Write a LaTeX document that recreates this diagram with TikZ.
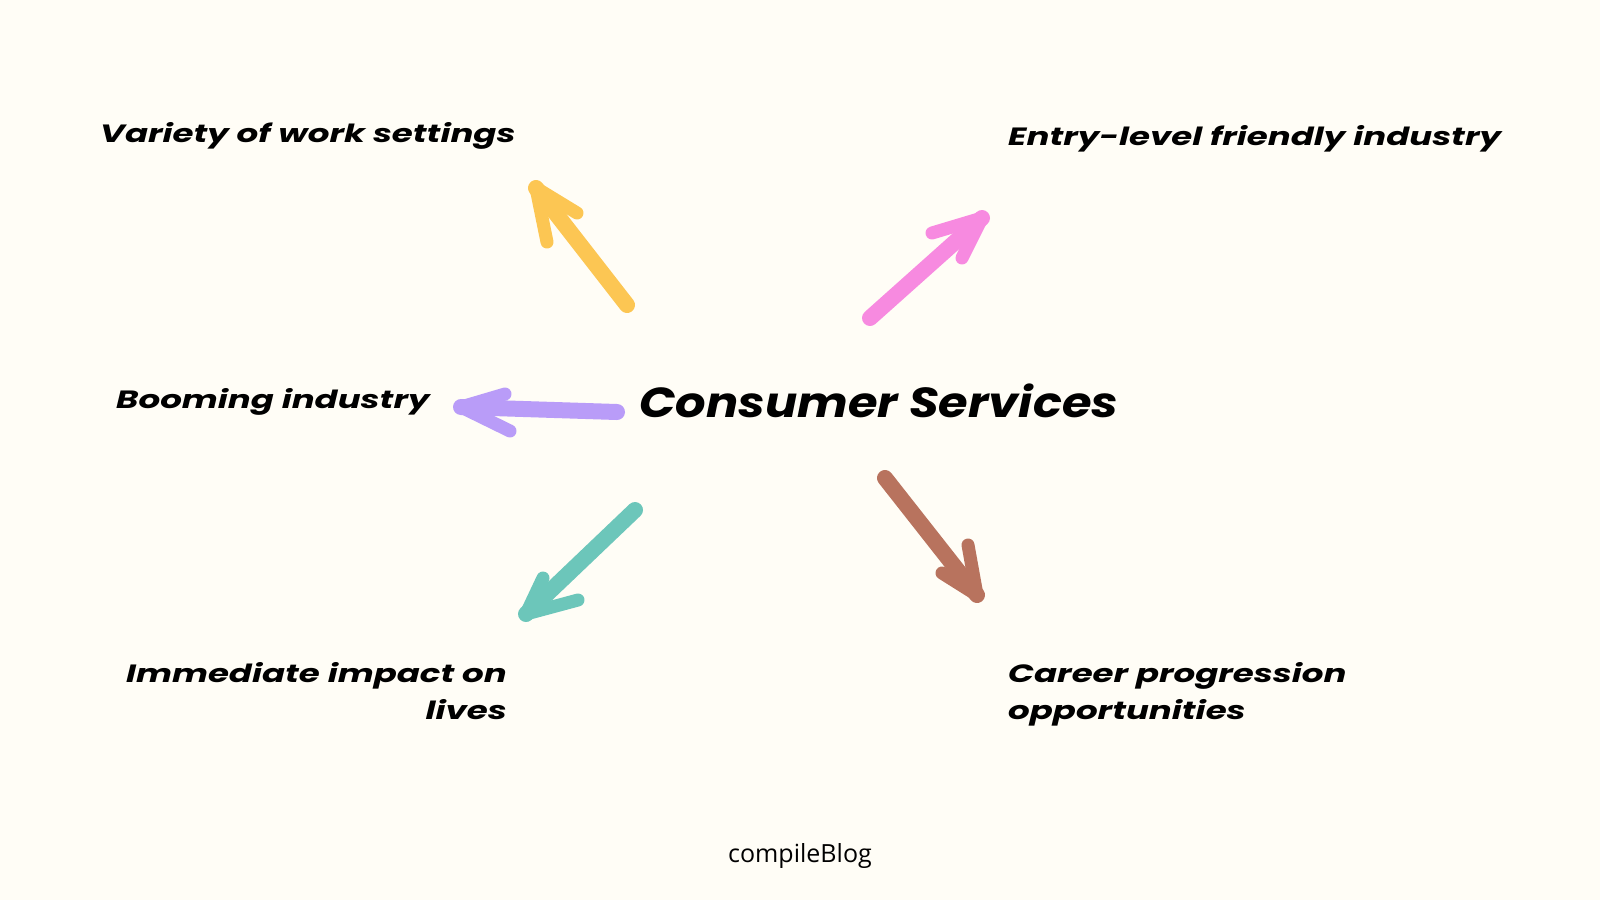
\documentclass[tikz,border=0pt]{standalone}
\usepackage{fontspec}
\usetikzlibrary{calc}
\setmainfont{Poppins}
\newfontfamily\lblfont[FakeStretch=1.36]{Poppins}
\newfontfamily\titlefont[FakeStretch=1.14]{Poppins}
\newfontfamily\blogfont{Open Sans}
\definecolor{bgc}{HTML}{FFFDF6}
\definecolor{ayel}{HTML}{FCC653}
\definecolor{apink}{HTML}{F78AE0}
\definecolor{apur}{HTML}{B99CF8}
\definecolor{ateal}{HTML}{6CC6BA}
\definecolor{abrown}{HTML}{B8735E}
\begin{document}
\begin{tikzpicture}[x=1pt,y=-1pt,
  lbl/.style={font=\lblfont\fontsize{25}{37}\selectfont\bfseries\itshape, inner sep=0pt},
  shaft/.style={line width=16pt, line cap=round},
  barb/.style={line width=13pt, line cap=round, line join=round}]
\fill[bgc] (0,0) rectangle (1600,900);
\useasboundingbox (0,0) rectangle (1600,900);
% labels
\node[lbl, anchor=west] (var) at (100,136) {Variety of work settings};
\node[lbl, anchor=west] (ent) at (1008,139) {Entry-level friendly industry};
\node[lbl, anchor=west] (boom) at (116,402) {Booming industry};
\node[font=\titlefont\fontsize{42}{50}\selectfont\bfseries\itshape, inner sep=0pt, anchor=west] (cs) at (639,401) {Consumer Services};
\node[lbl, anchor=north east, align=right] (imm) at (507,662) {Immediate impact on\\lives};
\node[lbl, anchor=north west, align=left] (car) at (1008,662) {Career progression\\opportunities};
\node[font=\blogfont\fontsize{25}{30}\selectfont, inner sep=0pt] (blog) at (800,856) {compileBlog};
% arrow coordinates
\coordinate (y0) at (627,305); \coordinate (y1) at (536,188);
\coordinate (ya) at (547,242); \coordinate (yb) at (577,213);
\coordinate (p0) at (870,318); \coordinate (p1) at (982,218);
\coordinate (pa) at (932,233); \coordinate (pb) at (962,258);
\coordinate (u0) at (617,412); \coordinate (u1) at (461,407);
\coordinate (ua) at (505,394); \coordinate (ub) at (510,431);
\coordinate (t0) at (635,510); \coordinate (t1) at (526,614);
\coordinate (ta) at (543,578); \coordinate (tb) at (578,600);
\coordinate (b0) at (885,478); \coordinate (b1) at (977,595);
\coordinate (ba) at (968,545); \coordinate (bb) at (942,573);
% arrows
\foreach \c/\k in {ayel/y, apink/p, apur/u, ateal/t, abrown/b}{
  \draw[shaft, \c] (\k0) -- (\k1);
  \draw[barb, \c] (\k a) -- (\k1) -- (\k b);
  \fill[\c] (\k1) -- ($(\k1)!0.55!(\k a)$) -- ($(\k1)!0.55!(\k b)$) -- cycle;
}
\end{tikzpicture}
\end{document}
